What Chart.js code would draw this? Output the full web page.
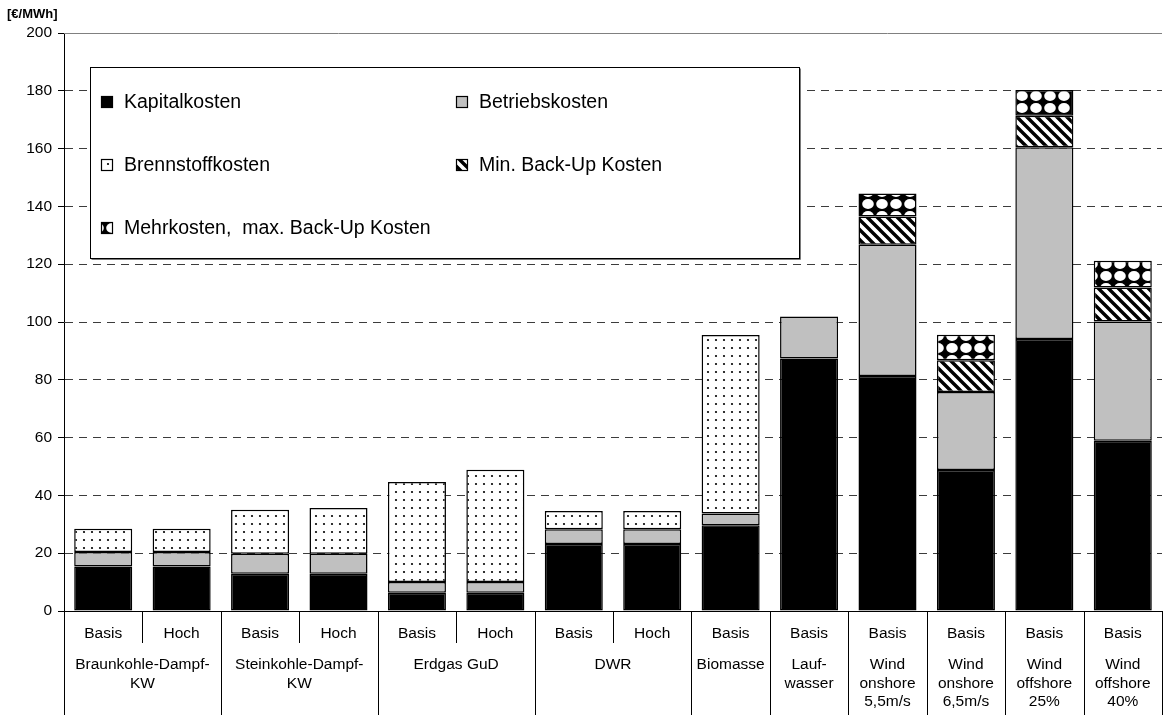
<!DOCTYPE html>
<html>
<head>
<meta charset="utf-8">
<script src="https://cdn.jsdelivr.net/npm/chart.js@4.4.1/dist/chart.umd.min.js"></script>
<style>
  html, body { margin: 0; padding: 0; background: #fff; }
  #costChart { display: block; }
</style>
</head>
<body>
<canvas id="costChart" width="1166" height="715"></canvas>
<script>
// variant per bar and the plant group it belongs to
const variants = ['Basis', 'Hoch', 'Basis', 'Hoch', 'Basis', 'Hoch', 'Basis', 'Hoch',
  'Basis', 'Basis', 'Basis', 'Basis', 'Basis', 'Basis'];
const plantGroups = [
  ['Braunkohle-Dampf-', 'KW'],
  ['Steinkohle-Dampf-', 'KW'],
  ['Erdgas GuD'],
  ['DWR'],
  ['Biomasse'],
  ['Lauf-', 'wasser'],
  ['Wind', 'onshore', '5,5m/s'],
  ['Wind', 'onshore', '6,5m/s'],
  ['Wind', 'offshore', '25%'],
  ['Wind', 'offshore', '40%']
];
const groupSpans = [2, 2, 2, 2, 1, 1, 1, 1, 1, 1];

// cost components in €/MWh (stacked bottom to top)
const kapitalkosten = [15.4, 15.4, 12.9, 12.9, 6.3, 6.3, 23.2, 23.2, 29.7, 87.4, 81.3, 48.8, 94.1, 58.9];
const betriebskosten = [5.0, 5.0, 6.9, 6.9, 3.7, 3.7, 5.1, 5.1, 4.0, 14.5, 45.4, 27.0, 66.4, 41.3];
const brennstoffkosten = [8.1, 8.1, 15.2, 15.8, 34.6, 38.9, 6.3, 6.3, 61.8, null, null, null, null, null];
const minBackupKosten = [null, null, null, null, null, null, null, null, null, null, 9.8, 11.0, 10.9, 11.7];
const mehrkostenBackup = [null, null, null, null, null, null, null, null, null, null, 8.0, 8.8, 8.9, 9.3];

const legendLabels = ['Kapitalkosten', 'Betriebskosten', 'Brennstoffkosten',
  'Min. Back-Up Kosten', 'Mehrkosten,  max. Back-Up Kosten'];
const unitLabel = '[€/MWh]';

const FONT = "'Liberation Sans', Arial, Helvetica, sans-serif";
const canvas = document.getElementById('costChart');
const ctx = canvas.getContext('2d');

function makePattern(w, h, paint) {
  const tile = document.createElement('canvas');
  tile.width = w;
  tile.height = h;
  const g = tile.getContext('2d');
  g.fillStyle = '#fff';
  g.fillRect(0, 0, w, h);
  paint(g, w, h);
  return ctx.createPattern(tile, 'repeat');
}

const dotFill = makePattern(8, 8, g => {
  g.fillStyle = '#000';
  g.beginPath();
  g.arc(4, 4, 1.1, 0, Math.PI * 2);
  g.fill();
});

const hatchFill = makePattern(10, 10, (g, w, h) => {
  g.strokeStyle = '#000';
  g.lineWidth = 3.4;
  g.beginPath();
  for (const x of [-w, 0, w]) {
    g.moveTo(x - 2, -2);
    g.lineTo(x + w + 2, h + 2);
  }
  g.stroke();
});

// black diamonds joined at the tips, round white gaps between them
const diamondFill = makePattern(14, 12, (g, w, h) => {
  g.fillStyle = '#000';
  g.fillRect(0, 0, w, h);
  g.fillStyle = '#fff';
  for (const [cx, cy] of [[0, 0], [w, 0], [0, h], [w, h]]) {
    g.beginPath();
    g.ellipse(cx, cy, 5.8, 5.0, 0, 0, Math.PI * 2);
    g.fill();
  }
});

const barStyle = {
  borderColor: '#000',
  borderWidth: 1.5,
  borderSkipped: false,
  barPercentage: 0.74,
  categoryPercentage: 1
};

const datasets = [
  { label: legendLabels[0], data: kapitalkosten, backgroundColor: '#000' },
  { label: legendLabels[1], data: betriebskosten, backgroundColor: '#c0c0c0' },
  { label: legendLabels[2], data: brennstoffkosten, backgroundColor: dotFill },
  { label: legendLabels[3], data: minBackupKosten, backgroundColor: hatchFill },
  { label: legendLabels[4], data: mehrkostenBackup, backgroundColor: diamondFill }
].map(d => Object.assign(d, barStyle));

// axis frame, category table under the bars, unit label and boxed legend
const tablePlugin = {
  id: 'costTable',
  afterDraw(chart) {
    const c = chart.ctx;
    const area = chart.chartArea;
    const xs = chart.scales.x;
    const H = chart.height;
    const cell = area.width / variants.length;
    const edge = i => Math.round(area.left + i * cell) + 0.5;

    c.save();
    c.lineWidth = 1;

    // top frame line at 200 and base line at 0
    c.strokeStyle = '#808080';
    c.beginPath();
    c.moveTo(area.left, Math.round(area.top) + 0.5);
    c.lineTo(area.right, Math.round(area.top) + 0.5);
    c.stroke();
    c.strokeStyle = '#000';
    c.beginPath();
    c.moveTo(area.left - 6, Math.round(area.bottom) + 0.5);
    c.lineTo(area.right, Math.round(area.bottom) + 0.5);
    c.stroke();

    // vertical rules of the category table
    c.beginPath();
    let idx = 0;
    c.moveTo(edge(0), area.bottom);
    c.lineTo(edge(0), H);
    groupSpans.forEach(span => {
      for (let k = 1; k < span; k++) {
        c.moveTo(edge(idx + k), area.bottom);
        c.lineTo(edge(idx + k), area.bottom + 32);
      }
      idx += span;
      c.moveTo(edge(idx), area.bottom);
      c.lineTo(edge(idx), H);
    });
    c.stroke();

    // variant row
    c.fillStyle = '#000';
    c.font = '15.5px ' + FONT;
    c.textAlign = 'center';
    c.textBaseline = 'middle';
    variants.forEach((v, i) => {
      c.fillText(v, xs.getPixelForValue(i), area.bottom + 23);
    });

    // plant group rows
    idx = 0;
    plantGroups.forEach((lines, g) => {
      const span = groupSpans[g];
      const cx = area.left + (idx + span / 2) * cell;
      lines.forEach((line, l) => {
        c.fillText(line, cx, area.bottom + 54 + l * 18.5);
      });
      idx += span;
    });

    // unit label
    c.font = 'bold 13px ' + FONT;
    c.textAlign = 'left';
    c.fillText(unitLabel, 7, 14);

    // legend box
    const box = { x: 90.5, y: 67.5, w: 709, h: 191 };
    c.fillStyle = '#fff';
    c.fillRect(box.x, box.y, box.w, box.h);
    c.strokeStyle = '#000';
    c.strokeRect(box.x, box.y, box.w, box.h);
    c.strokeStyle = '#7a7a7a';
    c.beginPath();
    c.moveTo(box.x + 1, box.y + box.h + 1);
    c.lineTo(box.x + box.w + 1, box.y + box.h + 1);
    c.lineTo(box.x + box.w + 1, box.y + 1);
    c.stroke();

    const colX = [101, 456];
    const rowY = [102, 165, 228];
    c.font = '19.5px ' + FONT;
    c.textBaseline = 'middle';
    chart.data.datasets.forEach((ds, i) => {
      const x = colX[i % 2];
      const y = rowY[Math.floor(i / 2)];
      c.fillStyle = ds.backgroundColor;
      c.fillRect(x, y - 6, 12, 12);
      c.strokeStyle = '#000';
      c.lineWidth = 1.2;
      c.strokeRect(x + 0.5, y - 5.5, 11, 11);
      c.fillStyle = '#000';
      c.fillText(ds.label, x + 23, y + 1);
    });
    c.restore();
  }
};

new Chart(ctx, {
  type: 'bar',
  data: {
    labels: variants,
    datasets: datasets
  },
  options: {
    responsive: false,
    animation: false,
    devicePixelRatio: 1,
    layout: {
      padding: { top: 33, right: 4, bottom: 104, left: 0 }
    },
    plugins: {
      legend: { display: false },
      tooltip: { enabled: false }
    },
    scales: {
      x: {
        display: false,
        stacked: true
      },
      y: {
        stacked: true,
        min: 0,
        max: 200,
        afterFit(scale) { scale.width = 64; },
        ticks: {
          stepSize: 20,
          color: '#000',
          padding: 6,
          font: { family: FONT, size: 15.5 }
        },
        grid: {
          color: c => (c.tick && (c.tick.value === 0 || c.tick.value === 200)) ? 'rgba(0,0,0,0)' : '#3c3c3c',
          lineWidth: 1,
          tickColor: '#000',
          tickLength: 6,
          drawTicks: true
        },
        border: {
          display: true,
          color: '#000',
          width: 1,
          dash: [8, 6]
        }
      }
    }
  },
  plugins: [tablePlugin]
});
</script>
</body>
</html>
